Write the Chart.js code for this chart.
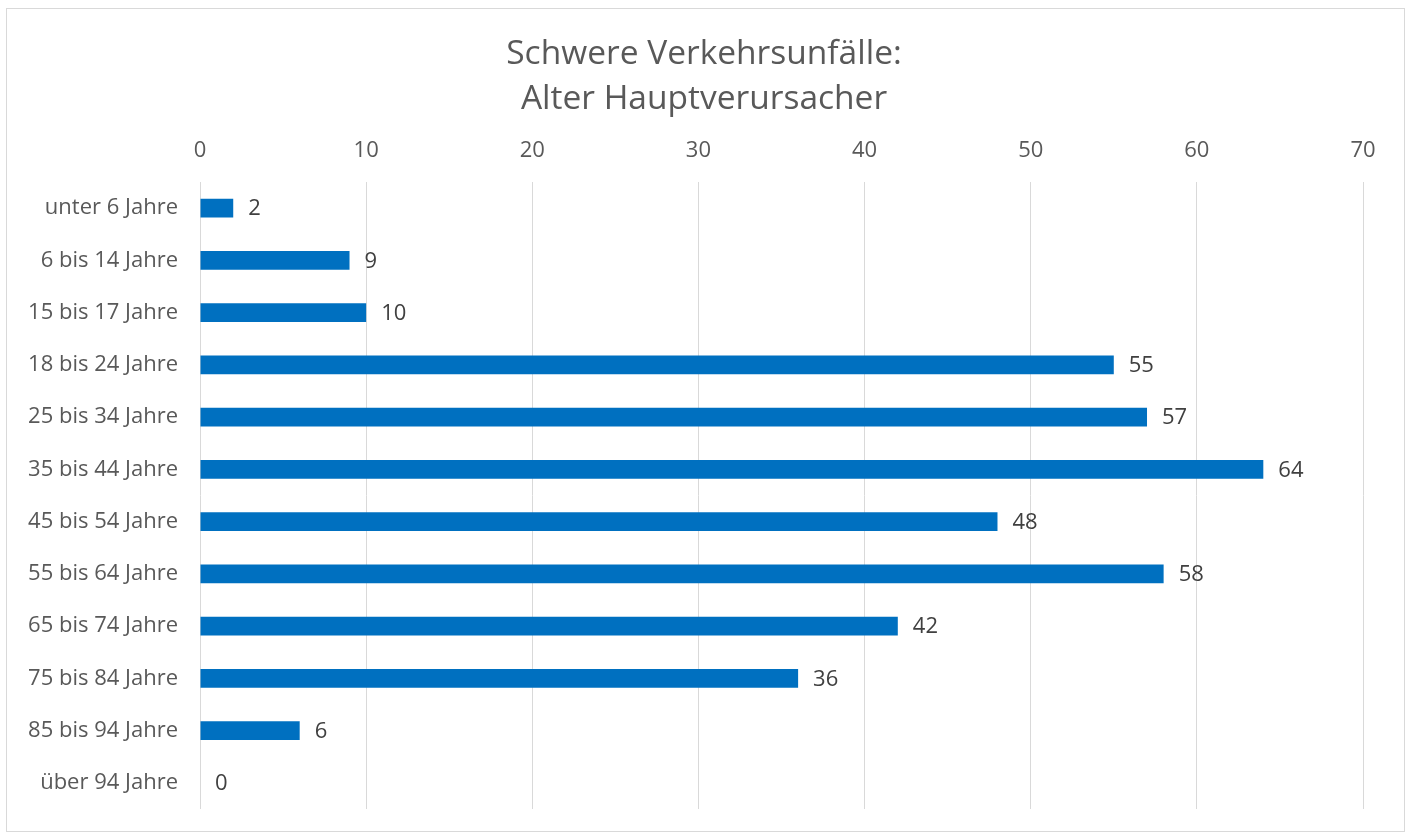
<!DOCTYPE html>
<html lang="de">
<head>
<meta charset="utf-8">
<title>Schwere Verkehrsunfälle</title>
<script src="https://cdn.jsdelivr.net/npm/chart.js@4"></script>
<style>
  html, body { margin: 0; padding: 0; background: #ffffff; }
  #wrap { position: relative; width: 1408px; height: 834px; }
  #frame {
    position: absolute; left: 6px; top: 8px; width: 1397px; height: 822px;
    border: 1px solid #d9d9d9; pointer-events: none;
  }
</style>
</head>
<body>
<div id="wrap">
  <canvas id="chart" width="1408" height="834"></canvas>
  <div id="frame"></div>
</div>
<script>
const ageGroups = [
  'unter 6 Jahre', '6 bis 14 Jahre', '15 bis 17 Jahre', '18 bis 24 Jahre',
  '25 bis 34 Jahre', '35 bis 44 Jahre', '45 bis 54 Jahre', '55 bis 64 Jahre',
  '65 bis 74 Jahre', '75 bis 84 Jahre', '85 bis 94 Jahre', 'über 94 Jahre'
];
const accidents = [2, 9, 10, 55, 57, 64, 48, 58, 42, 36, 6, 0];
const axisMin = 0;
const axisMax = 70;
const axisStep = 10;

const chartTitle = ['Schwere Verkehrsunfälle:', 'Alter Hauptverursacher'];
const fontFamily = '"Open Sans", "Noto Sans", sans-serif';

// value labels to the right of each bar
const valueLabels = {
    id: 'valueLabels',
    afterDatasetsDraw(chart) {
        const ctx = chart.ctx;
        const meta = chart.getDatasetMeta(0);
        ctx.save();
        ctx.font = '22px ' + fontFamily;
        ctx.fillStyle = '#404040';
        ctx.textAlign = 'left';
        ctx.textBaseline = 'middle';
        meta.data.forEach((bar, i) => {
            ctx.fillText(String(accidents[i]), bar.x + 15, bar.y + 1);
        });
        ctx.restore();
    }
};

const ctx = document.getElementById('chart').getContext('2d');
new Chart(ctx, {
    type: 'bar',
    data: {
        labels: ageGroups,
        datasets: [{
            data: accidents,
            backgroundColor: '#0070c0',
            borderWidth: 0,
            barPercentage: 0.36,
            categoryPercentage: 1
        }]
    },
    options: {
        indexAxis: 'y',
        responsive: false,
        animation: false,
        layout: { padding: { left: 0, right: 0, top: 0, bottom: 25 } },
        plugins: {
            legend: { display: false },
            tooltip: { enabled: false },
            title: {
                display: true,
                text: chartTitle,
                color: '#595959',
                font: { family: fontFamily, size: 33.5, weight: 'normal', lineHeight: 1.35 },
                padding: { top: 31.5, bottom: 0 }
            }
        },
        scales: {
            x: {
                position: 'top',
                min: axisMin,
                max: axisMax,
                grid: { color: '#d9d9d9', lineWidth: 1, drawTicks: false },
                border: { display: false },
                ticks: {
                    stepSize: axisStep,
                    color: '#595959',
                    padding: 18,
                    font: { family: fontFamily, size: 22 }
                },
                afterFit(scale) { scale.height = 60; }
            },
            y: {
                grid: { display: false, drawTicks: false },
                border: { display: false },
                ticks: {
                    color: '#595959',
                    padding: 22,
                    font: { family: fontFamily, size: 22 }
                },
                afterFit(scale) {
                    scale.width = 200;
                    scale.paddingTop = 0;
                    scale.paddingBottom = 0;
                }
            },
            // empty right-hand spacer so the title stays centred on the frame
            spacer: {
                type: 'category',
                axis: 'y',
                position: 'right',
                grid: { display: false, drawTicks: false },
                border: { display: false },
                ticks: { display: false },
                afterFit(scale) { scale.width = 45; }
            }
        }
    },
    plugins: [valueLabels]
});
</script>
</body>
</html>
